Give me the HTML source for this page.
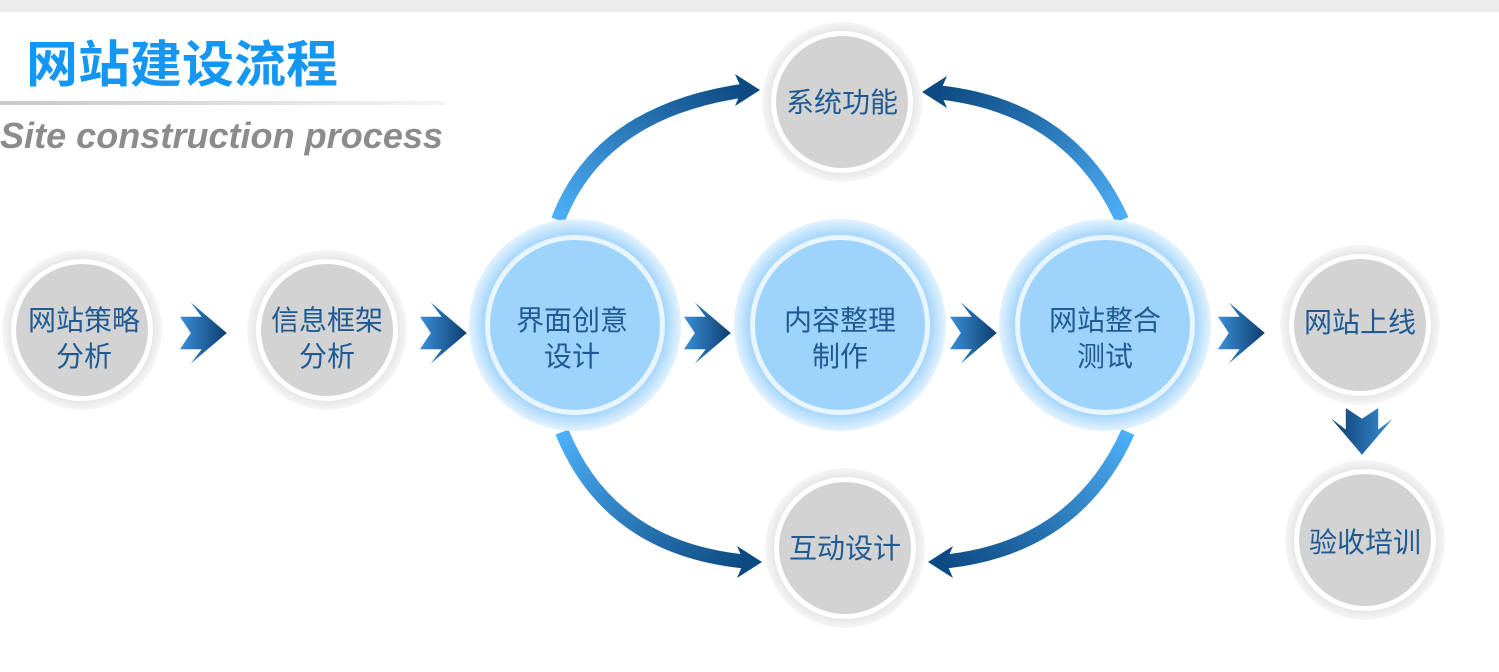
<!DOCTYPE html>
<html><head><meta charset="utf-8"><style>
html,body{margin:0;padding:0;background:#fff;width:1499px;height:672px;overflow:hidden}
</style></head><body>
<svg width="1499" height="672" viewBox="0 0 1499 672" xmlns="http://www.w3.org/2000/svg" font-family="'Liberation Sans','Noto Sans CJK SC',sans-serif">
<defs>
<linearGradient id="hl" x1="0" x2="1"><stop offset="0" stop-color="#c8c8c8"/><stop offset="1" stop-color="#f4f4f4"/></linearGradient>
<linearGradient id="arr" x1="0" x2="1"><stop offset="0" stop-color="#3a8fd6"/><stop offset="1" stop-color="#0d3d6e"/></linearGradient>
<linearGradient id="arrd" x1="0" y1="0" x2="0" y2="1"><stop offset="0" stop-color="#3a8fd6"/><stop offset="1" stop-color="#0d3d6e"/></linearGradient>
<radialGradient id="gg"><stop offset="0.85" stop-color="#e2e2e2"/><stop offset="1" stop-color="#f6f6f6"/></radialGradient>
<radialGradient id="bg"><stop offset="0.85" stop-color="#a6d6fb"/><stop offset="1" stop-color="#e4f3fe"/></radialGradient>
<linearGradient id="c1" x1="0" y1="1" x2="1" y2="0"><stop offset="0" stop-color="#4db0f8"/><stop offset="1" stop-color="#0d4a82"/></linearGradient>
<linearGradient id="c2" x1="1" y1="1" x2="0" y2="0"><stop offset="0" stop-color="#4db0f8"/><stop offset="1" stop-color="#0d4a82"/></linearGradient>
<linearGradient id="c3" x1="0" y1="0" x2="1" y2="1"><stop offset="0" stop-color="#4db0f8"/><stop offset="1" stop-color="#0d4a82"/></linearGradient>
<linearGradient id="c4" x1="1" y1="0" x2="0" y2="1"><stop offset="0" stop-color="#4db0f8"/><stop offset="1" stop-color="#0d4a82"/></linearGradient>
<g id="sa"><path d="M0,-9 L12,-9 L6,-17 L26,0 L6,17 L12,9 L0,9 L6,0 Z" /></g>
</defs>
<rect x="0" y="0" width="1499" height="12" fill="#ececec"/>
<text x="26" y="82" font-size="50" font-weight="bold" fill="#1596f2" textLength="312" lengthAdjust="spacingAndGlyphs">网站建设流程</text>
<rect x="0" y="101" width="445" height="4" fill="url(#hl)"/>
<text x="0" y="148" font-size="36" font-style="italic" font-weight="bold" fill="#8c8c8c" textLength="443" lengthAdjust="spacingAndGlyphs">Site construction process</text>

<path d="M558,220 Q600,110 748,90" stroke="url(#c1)" stroke-width="14" fill="none"/>
<polygon points="760,90 735,74 742,90 735,106" fill="#0d4a82"/>
<path d="M1122,220 Q1070,105 935,92" stroke="url(#c2)" stroke-width="14" fill="none"/>
<polygon points="922,92 947,76 940,92 947,108" fill="#0d4a82"/>
<path d="M562,432 Q610,550 750,562" stroke="url(#c3)" stroke-width="14" fill="none"/>
<polygon points="762,562 737,546 744,562 737,578" fill="#0d4a82"/>
<path d="M1128,432 Q1075,550 940,562" stroke="url(#c4)" stroke-width="14" fill="none"/>
<polygon points="928,562 953,546 946,562 953,578" fill="#0d4a82"/>

<g fill="url(#arr)">
<use href="#sa" transform="translate(180,333) scale(1.8)"/>
<use href="#sa" transform="translate(420,333) scale(1.8)"/>
<use href="#sa" transform="translate(684,333) scale(1.8)"/>
<use href="#sa" transform="translate(950,333) scale(1.8)"/>
<use href="#sa" transform="translate(1218,333) scale(1.8)"/>
</g>
<g fill="url(#arrd)"><use href="#sa" transform="translate(1362,408) rotate(90) scale(1.8)"/></g>

<g>
<circle cx="82" cy="330" r="80" fill="url(#gg)"/><circle cx="82" cy="330" r="71" fill="#fff"/><circle cx="82" cy="330" r="66" fill="#d3d3d3"/>
<circle cx="327" cy="330" r="80" fill="url(#gg)"/><circle cx="327" cy="330" r="71" fill="#fff"/><circle cx="327" cy="330" r="66" fill="#d3d3d3"/>
<circle cx="842" cy="102" r="80" fill="url(#gg)"/><circle cx="842" cy="102" r="71" fill="#fff"/><circle cx="842" cy="102" r="66" fill="#d3d3d3"/>
<circle cx="845" cy="548" r="80" fill="url(#gg)"/><circle cx="845" cy="548" r="71" fill="#fff"/><circle cx="845" cy="548" r="66" fill="#d3d3d3"/>
<circle cx="1360" cy="325" r="80" fill="url(#gg)"/><circle cx="1360" cy="325" r="71" fill="#fff"/><circle cx="1360" cy="325" r="66" fill="#d3d3d3"/>
<circle cx="1365" cy="540" r="80" fill="url(#gg)"/><circle cx="1365" cy="540" r="71" fill="#fff"/><circle cx="1365" cy="540" r="66" fill="#d3d3d3"/>
</g>
<g>
<circle cx="575" cy="325" r="106" fill="url(#bg)"/><circle cx="575" cy="325" r="90" fill="#eaf6ff"/><circle cx="575" cy="325" r="85" fill="#9ed3fb"/>
<circle cx="840" cy="325" r="106" fill="url(#bg)"/><circle cx="840" cy="325" r="90" fill="#eaf6ff"/><circle cx="840" cy="325" r="85" fill="#9ed3fb"/>
<circle cx="1105" cy="325" r="106" fill="url(#bg)"/><circle cx="1105" cy="325" r="90" fill="#eaf6ff"/><circle cx="1105" cy="325" r="85" fill="#9ed3fb"/>
</g>
<g font-size="28" fill="#1f5a93" text-anchor="middle">
<text x="84" y="330">网站策略</text><text x="84" y="366">分析</text>
<text x="327" y="330">信息框架</text><text x="327" y="366">分析</text>
<text x="572" y="330">界面创意</text><text x="572" y="366">设计</text>
<text x="840" y="330">内容整理</text><text x="840" y="366">制作</text>
<text x="1105" y="330">网站整合</text><text x="1105" y="366">测试</text>
<text x="842" y="112">系统功能</text>
<text x="845" y="558">互动设计</text>
<text x="1360" y="332">网站上线</text>
<text x="1365" y="552">验收培训</text>
</g>
</svg>
</body></html>
